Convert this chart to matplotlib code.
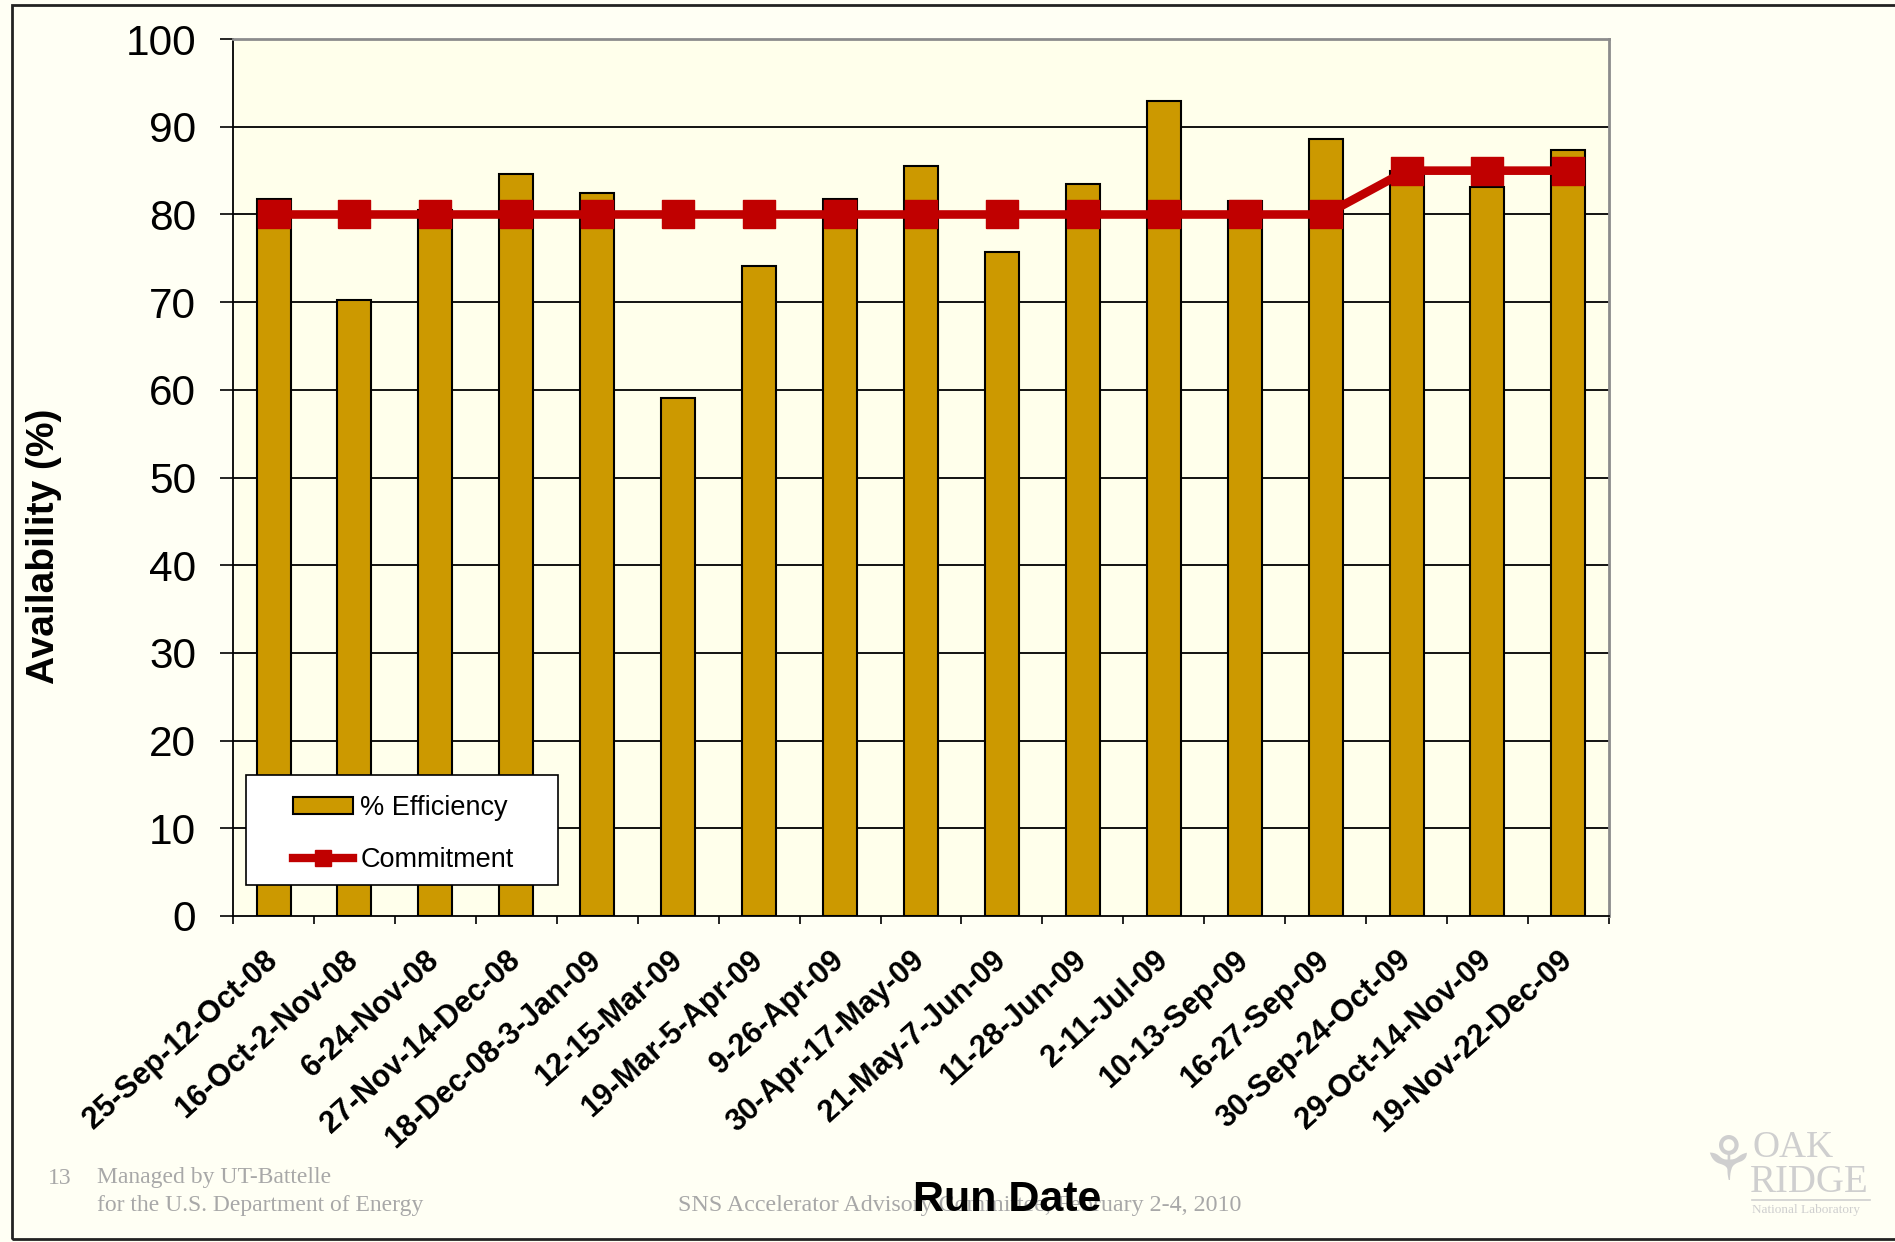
import matplotlib
matplotlib.use("Agg")
import matplotlib.pyplot as plt
from matplotlib.lines import Line2D
from matplotlib.patches import Patch, Rectangle
import numpy as np

run_dates = ['25-Sep-12-Oct-08', '16-Oct-2-Nov-08', '6-24-Nov-08', '27-Nov-14-Dec-08',
             '18-Dec-08-3-Jan-09', '12-15-Mar-09', '19-Mar-5-Apr-09', '9-26-Apr-09',
             '30-Apr-17-May-09', '21-May-7-Jun-09', '11-28-Jun-09', '2-11-Jul-09',
             '10-13-Sep-09', '16-27-Sep-09', '30-Sep-24-Oct-09', '29-Oct-14-Nov-09',
             '19-Nov-22-Dec-09']
efficiency = [81.8, 70.3, 80.5, 84.6, 82.4, 59.1, 74.1, 81.8, 85.5, 75.7,
              83.5, 92.9, 81.5, 88.6, 85.0, 83.1, 87.3]
commitment = [80, 80, 80, 80, 80, 80, 80, 80, 80, 80, 80, 80, 80, 80, 85, 85, 85]
y_ticks = [0, 10, 20, 30, 40, 50, 60, 70, 80, 90, 100]

plt.rcParams['font.family'] = ['Liberation Sans', 'DejaVu Sans']

bar_color = '#CC9900'
red = '#C00000'
W, H = 1895, 1242

fig = plt.figure(figsize=(18.95, 12.42), dpi=100, facecolor='#FFFFF4')
ax = fig.add_axes([0.123, 0.2625, 0.726, 0.706], facecolor='#FFFFEB')

x = np.arange(len(run_dates))
ax.bar(x, efficiency, width=0.42, color=bar_color, edgecolor='black', linewidth=1.5, zorder=2)

# slightly wide rectangle marker
rect = [(-1.18, -1), (1.18, -1), (1.18, 1), (-1.18, 1), (-1.18, -1)]
ax.plot(x, commitment, color=red, linewidth=6.2, marker=rect, markersize=23,
        markerfacecolor=red, markeredgecolor=red, zorder=3, solid_joinstyle='miter')

ax.set_xlim(-0.5, len(run_dates) - 0.5)
ax.set_ylim(0, 100)
ax.set_yticks(y_ticks)
ax.set_yticklabels([str(v) for v in y_ticks], fontsize=30.5)
ax.tick_params(axis='y', direction='out', length=9.5, width=1.2, pad=17, colors='black')

ax.set_xticks(x)
ax.set_xticks(np.arange(len(run_dates) + 1) - 0.5, minor=True)
ax.set_xticklabels(run_dates, rotation=42, ha='right', va='center',
                   rotation_mode='anchor', fontsize=22, fontweight='bold')
ax.tick_params(axis='x', which='major', length=0, pad=29)
ax.tick_params(axis='x', which='minor', direction='out', length=6, width=1.2)

ax.set_axisbelow(True)
for v in y_ticks[1:-1]:
    ax.axhline(v, color='black', linewidth=1.3, zorder=1)

ax.spines['left'].set_color('black')
ax.spines['left'].set_linewidth(1.3)
ax.spines['bottom'].set_color('black')
ax.spines['bottom'].set_linewidth(1.3)
ax.spines['top'].set_color('#8C8C8C')
ax.spines['top'].set_linewidth(2)
ax.spines['right'].set_color('#8C8C8C')
ax.spines['right'].set_linewidth(2)

# legend box drawn separately so the padding can be set per side
fig.add_artist(Rectangle((246 / W, 1 - 885 / H), 312 / W, 110 / H,
                         transform=fig.transFigure, facecolor='white',
                         edgecolor='black', linewidth=1.2, zorder=4))
handles = [Patch(facecolor=bar_color, edgecolor='black', linewidth=1.5),
           Line2D([0], [0], color=red, linewidth=6, marker='s', markersize=11,
                  markerfacecolor=red, markeredgecolor=red)]
leg = fig.legend(handles, ['% Efficiency', 'Commitment'], loc='upper left',
                 bbox_to_anchor=(293 / W, 1 - 795 / H), borderaxespad=0, borderpad=0,
                 fontsize=19.5, frameon=False, labelspacing=0.95, handlelength=2.2,
                 handleheight=0.55, handletextpad=0.28)
leg.set_zorder(5)
for t in leg.get_texts():
    t.set_fontstretch('expanded')

fig.text(44 / W, 1 - 546 / H, 'Availability (%)', rotation=90, ha='center',
         va='center', fontsize=28, fontweight='bold')

# footer and logo text
grey = '#A8A8A8'
fig.text(48 / W, 1 - 1178 / H, '13', fontsize=17, color=grey,
         family='Liberation Serif', va='center')
fig.text(97 / W, 1 - 1178 / H, 'Managed by UT-Battelle', fontsize=17, color=grey,
         family='Liberation Serif', va='center')
fig.text(97 / W, 1 - 1205 / H, 'for the U.S. Department of Energy', fontsize=17,
         color=grey, family='Liberation Serif', va='center')
fig.text(960 / W, 1 - 1206 / H,
         'SNS Accelerator Advisory Committee, February 2-4, 2010', fontsize=17.3,
         color=grey, family='Liberation Serif', va='center', ha='center')
fig.text(1007 / W, 1 - 1200 / H, 'Run Date', fontsize=31, fontweight='bold',
         ha='center', va='center')

logo = '#CFCFCF'
fig.text(1752 / W, 1 - 1148 / H, 'OAK', fontsize=27, color=logo,
         family='Liberation Serif', va='center', ha='left')
fig.text(1750 / W, 1 - 1182 / H, 'RIDGE', fontsize=28, color=logo,
         family='Liberation Serif', va='center', ha='left')
fig.add_artist(Line2D([1752 / W, 1870 / W], [1 - 1200 / H, 1 - 1200 / H],
                      color=logo, linewidth=1.2))
fig.text(1752 / W, 1 - 1210 / H, 'National Laboratory', fontsize=9.5, color=logo,
         family='Liberation Serif', va='center', ha='left')
fig.text(1728 / W, 1 - 1163 / H, '\u2698', fontsize=44, color=logo,
         family='DejaVu Sans', va='center', ha='center')

# page frame
fig.add_artist(Rectangle((12 / W, 1 - 1239 / H), 1.0, 1234 / H,
                         transform=fig.transFigure, fill=False, edgecolor='#222222',
                         linewidth=2))

fig.savefig('out.png', dpi=100, facecolor=fig.get_facecolor())
